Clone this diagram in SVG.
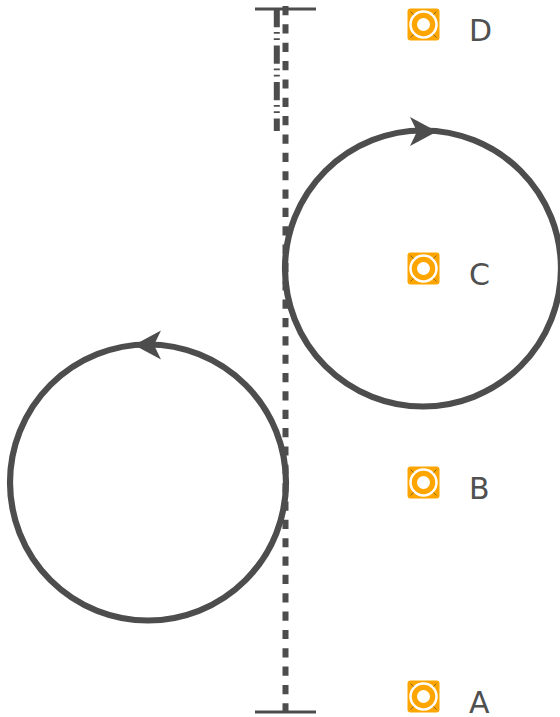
<svg xmlns="http://www.w3.org/2000/svg" width="560" height="717" viewBox="0 0 560 717">
<style>
text{font-family:"DejaVu Sans",sans-serif;font-size:30px;fill:#505050}
.bar{stroke:#4d4d4d;stroke-width:3;fill:none}
.loop{stroke:#4d4d4d;stroke-width:6.200;fill:none}
.head{fill:#4d4d4d}
.sq{fill:#ffa500}
.ring{fill:none;stroke:#fff;stroke-width:2.500}
.tick{stroke:#8a6a20;stroke-width:1;fill:none}
</style>
<defs>
<g id="icon">
<rect class="sq" x="-16" y="-16" width="32" height="32" rx="3"/>
<circle class="ring" r="13"/>
<circle r="6.500" fill="#fff"/>
<path class="tick" d="M-13-13l3 3M13-13l-3 3M-13 13l3-3M13 13l-3-3"/>
</g>
</defs>
<g id="connectors">
<path class="bar" d="M255 9H316M255 712H316"/>
<path d="M285.500 6V712" stroke="#4d4d4d" stroke-width="6" stroke-dasharray="9.200 9.150" fill="none"/>
<path d="M276.800 9V131" stroke="#4d4d4d" stroke-width="6" stroke-dasharray="18.300 4.600 1.800 4.600 1.800 5.400" fill="none"/>
<circle class="loop" cx="423" cy="268.500" r="138"/>
<path class="head" d="M437 131.500L410 117L417 131.500L410 146Z"/>
<circle class="loop" cx="148" cy="482.500" r="138"/>
<path class="head" d="M134 345L161 330.500L154 345L161 359.500Z"/>
</g>
<g id="node-d"><use href="#icon" x="423.500" y="24.500"/><text x="469" y="40.500">D</text></g>
<g id="node-c"><use href="#icon" x="423.500" y="268.500"/><text x="469" y="284.500">C</text></g>
<g id="node-b"><use href="#icon" x="423.500" y="482.500"/><text x="469" y="498.500">B</text></g>
<g id="node-a"><use href="#icon" x="423.500" y="696.500"/><text x="469" y="712.500">A</text></g>
</svg>
